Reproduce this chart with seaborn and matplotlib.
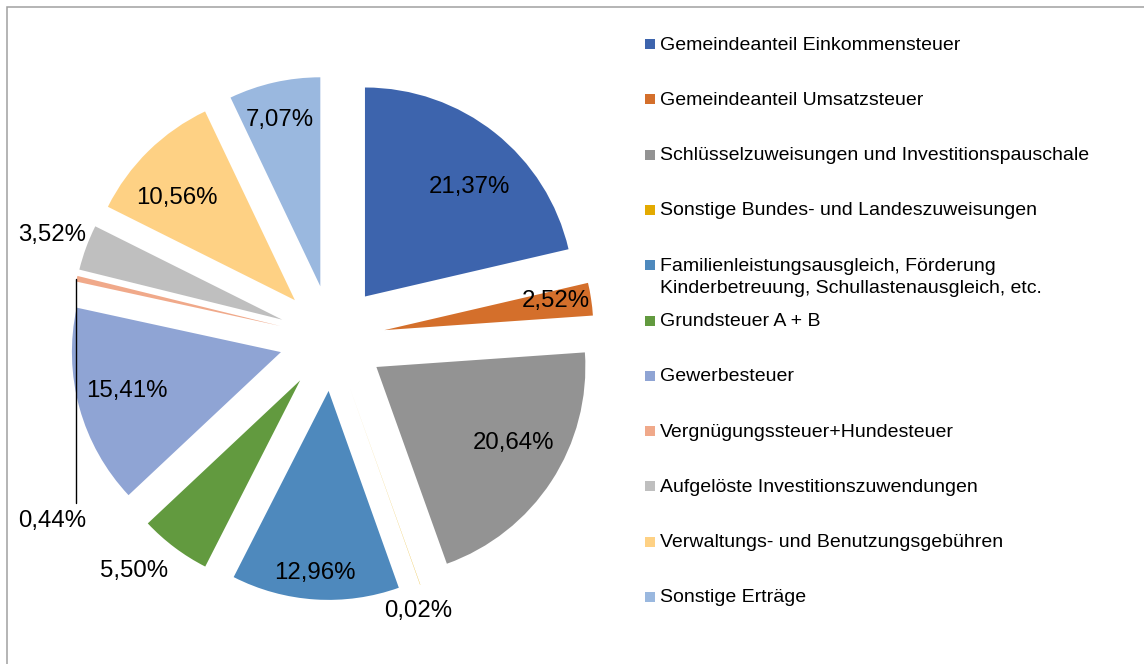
import matplotlib
matplotlib.use("Agg")
import matplotlib.pyplot as plt
import numpy as np
import seaborn as sns

categories = [
    "Gemeindeanteil Einkommensteuer",
    "Gemeindeanteil Umsatzsteuer",
    "Schlüsselzuweisungen und Investitionspauschale",
    "Sonstige Bundes- und Landeszuweisungen",
    "Familienleistungsausgleich, Förderung\nKinderbetreuung, Schullastenausgleich, etc.",
    "Grundsteuer A + B",
    "Gewerbesteuer",
    "Vergnügungssteuer+Hundesteuer",
    "Aufgelöste Investitionszuwendungen",
    "Verwaltungs- und Benutzungsgebühren",
    "Sonstige Erträge",
]
shares = [21.37, 2.52, 20.64, 0.02, 12.96, 5.50, 15.41, 0.44, 3.52, 10.56, 7.07]

colors = ["#3D64AD", "#D46F2B", "#939393", "#E3AA00", "#4E89BD", "#629A3F",
          "#8FA4D4", "#F0A98A", "#BFBFBF", "#FED184", "#9AB8DF"]

# label placement: distance (fraction of radius) from the exploded wedge centre
# and angular offset (deg) from the wedge bisector; None = leader line label
label_dist = [0.733, 0.835, 0.741, 1.102, 0.859, 1.199, 0.756, None, 1.179, 0.756, 0.833]
label_rot = [-4.3, 2.1, 5.1, -2.4, -0.6, -4.6, -2.3, 0, -0.6, 3.9, 0.7]

sns.set_theme(style="white")
plt.rcParams["font.family"] = ["Liberation Sans", "DejaVu Sans"]

W, H = 1144, 664
fig = plt.figure(figsize=(W / 100, H / 100), dpi=100)
ax = fig.add_axes([0, 0, 1, 1])

R = 209
cx, cy = 332, H - 338
wedges, _ = ax.pie(shares, radius=R, center=(cx, cy), explode=[53] * len(shares),
                   startangle=90, counterclock=False, colors=colors,
                   wedgeprops=dict(linewidth=0))

dy_txt = -3  # small baseline nudge for the percentage labels
for w, val, dist, rot in zip(wedges, shares, label_dist, label_rot):
    txt = f"{val:.2f}%".replace(".", ",")
    th = np.deg2rad((w.theta1 + w.theta2) / 2)
    wx, wy = w.center
    if dist is None:
        # tiny slice: label pulled down with a leader line from the outer edge
        ex, ey = wx + R * np.cos(th), wy + R * np.sin(th)
        ax.plot([ex - 1, ex - 1], [ey, ey - 224], color="black", lw=1)
        ax.text(ex - 25, ey - 239 + dy_txt, txt, ha="center", va="center",
                fontsize=17.3, color="black")
        continue
    ta = th + np.deg2rad(rot)
    ax.text(wx + dist * R * np.cos(ta), wy + dist * R * np.sin(ta) + dy_txt, txt,
            ha="center", va="center", fontsize=17.3, color="black")

# legend on the right
for i, (lab, col) in enumerate(zip(categories, colors)):
    y = H - (44 + 55.3 * i)
    ax.add_patch(plt.Rectangle((645, y - 5), 10, 10, facecolor=col, edgecolor="none"))
    for j, line in enumerate(lab.split("\n")):
        ax.text(660, y - 1 - 22 * j, line, ha="left", va="center", fontsize=14, color="black")

# chart frame
ax.add_patch(plt.Rectangle((7, -20), W + 40, H - 7 + 20, facecolor="none",
                           edgecolor="#A0A0A0", lw=1.1))

ax.set_xlim(0, W)
ax.set_ylim(0, H)
ax.set_aspect("equal")
ax.axis("off")

fig.savefig("out.png", dpi=100)
